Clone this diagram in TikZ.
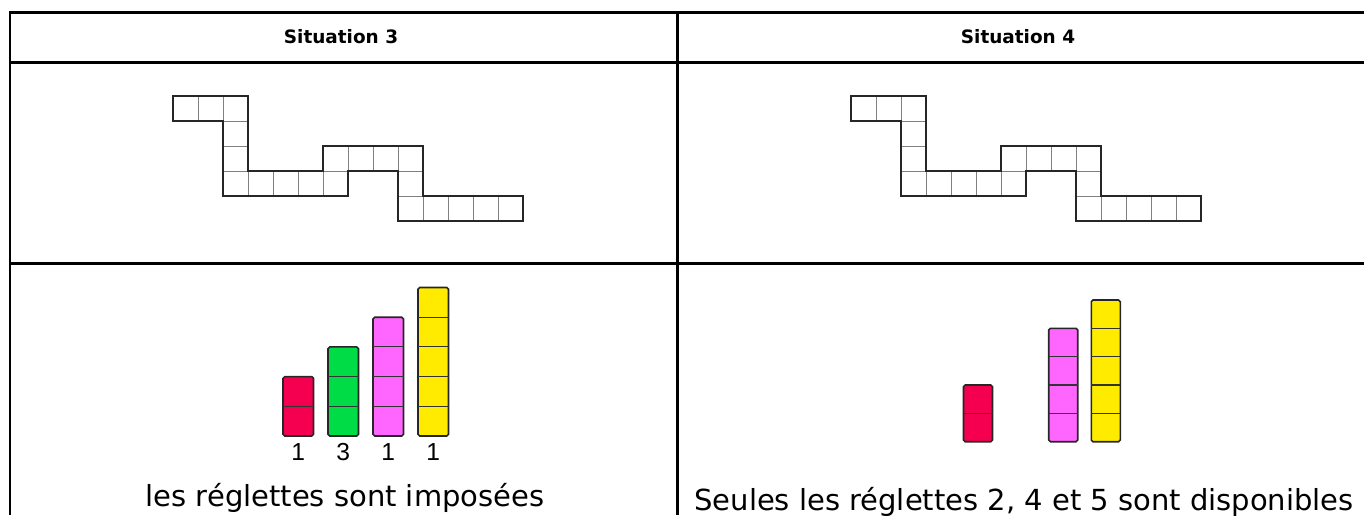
\documentclass[tikz,border=0pt]{standalone}
\usepackage{fontspec}
\setmainfont{DejaVu Sans}
\newfontfamily\numfont{Liberation Sans}
\usetikzlibrary{positioning}

\definecolor{regRouge}{RGB}{245,0,80}
\definecolor{regVert}{RGB}{0,220,70}
\definecolor{regRose}{RGB}{255,102,255}
\definecolor{regJaune}{RGB}{255,235,0}

\begin{document}
\begin{tikzpicture}[x=0.02cm, y=-0.02cm,
  tableline/.style={line width=1.7pt, black},
  cellule/.style={draw=black!50, line width=0.5pt},
  contour/.style={draw=black!85, line width=1pt},
  reglette/.style={draw=black!85, line width=0.9pt, rounded corners=1pt},
  sep/.style={draw=black!80, line width=0.6pt},
  header/.style={font=\fontsize{10.5}{12}\selectfont\bfseries},
  nombre/.style={font=\numfont\fontsize{14}{16}\selectfont},
  legende/.style={font=\fontsize{16.5}{18}\selectfont, anchor=base},
]
\useasboundingbox (0,0) rectangle (1364,515);
% ====== TABLE ======
\draw[tableline] (10,515) -- (10,12) -- (1364,12);
\draw[tableline] (10,62) -- (1364,62);
\draw[tableline] (10,263) -- (1364,263);
\draw[tableline] (677,12) -- (677,515);
\node[header] (titre3) at (341,37) {Situation 3};
\node[header] (titre4) at (1018,37) {Situation 4};
%
% ====== CHEMINS ======
\foreach \ox in {173,851} {
  \begin{scope}[shift={(\ox,96)}, x=0.5cm, y=-0.5cm]
    \foreach \c/\r in {0/0,1/0,2/0,2/1,2/2,2/3,3/3,4/3,5/3,6/3,
                       6/2,7/2,8/2,9/2,9/3,9/4,10/4,11/4,12/4,13/4}
      \draw[cellule] (\c,\r) rectangle ++(1,1);
    \draw[contour] (0,0) -- (3,0) -- (3,3) -- (6,3) -- (6,2) -- (10,2)
      -- (10,4) -- (14,4) -- (14,5) -- (9,5) -- (9,3) -- (7,3) -- (7,4)
      -- (2,4) -- (2,1) -- (0,1) -- cycle;
  \end{scope}
}
%
% ====== REGLETTES (a) ======
\begin{scope}[shift={(283,436)}]
  \foreach \i/\n/\col/\nb in {0/2/regRouge/1, 1/3/regVert/3,
                              2/4/regRose/1, 3/5/regJaune/1} {
    \draw[reglette, fill=\col] (45*\i,0) rectangle ++(30.5,-29.7*\n);
    \foreach \k in {2,...,\n}
      \draw[sep] (45*\i,-29.7*\k+29.7) -- ++(30.5,0);
    \node[nombre] (nb\i) at (45*\i+15.25,16) {\nb};
  }
\end{scope}
\node[legende] (leg3) at (345,506) {les réglettes sont imposées};
%
% ====== REGLETTES (b) ======
\begin{scope}[shift={(963.5,441.7)}]
  \foreach \i/\n/\col in {0/2/regRouge, 2/4/regRose, 3/5/regJaune} {
    \draw[reglette, fill=\col] (42.6*\i,0) rectangle ++(29,-28.35*\n);
    \foreach \k in {2,...,\n}
      \draw[sep] (42.6*\i,-28.35*\k+28.35) -- ++(29,0);
  }
\end{scope}
\node[legende] (leg4) at (1024,510) {Seules les réglettes 2, 4 et 5 sont disponibles};
\end{tikzpicture}
\end{document}
